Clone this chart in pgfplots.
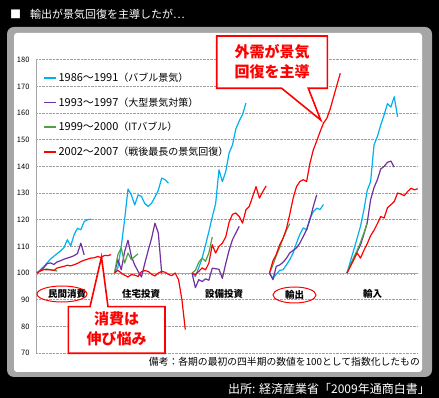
\documentclass[border=0pt]{standalone}
\usepackage{fontspec}
\setmainfont{Noto Sans CJK JP}
\usepackage{pgfplots}
\pgfplotsset{compat=1.18}
\definecolor{cBlue}{RGB}{0,176,240}
\definecolor{cPurple}{RGB}{112,48,160}
\definecolor{cGreen}{RGB}{80,160,70}
\definecolor{cRed}{RGB}{255,0,0}
\definecolor{panelgrey}{RGB}{166,166,166}
\begin{document}
\begin{tikzpicture}
\fill[black] (0pt,0pt) rectangle (439pt,398pt);
\fill[panelgrey, rounded corners=7pt] (7pt,21pt) rectangle (432pt,371pt);
\fill[white, rounded corners=3pt] (14pt,26pt) rectangle (422pt,365pt);
\node[white, anchor=west, inner sep=0pt, font=\fontsize{11}{11}\selectfont] at (10pt,384pt) {■\hspace{9pt}輸出が景気回復を主導したが…};
\begin{axis}[
  at={(36pt,45pt)}, anchor=south west, scale only axis,
  width=382pt, height=293.3pt,
  xmin=-0.3, xmax=113.06, ymin=70, ymax=180,
  axis x line=none, axis y line*=left,
  axis line style={gray!70, line width=0.8pt},
  ytick={70,80,...,180},
  ytick style={draw=none},
  ymajorgrids,
  major grid style={densely dotted, gray!75, line width=0.6pt},
  /pgf/number format/assume math mode=true,
  yticklabel style={font=\fontsize{7.5}{8}\selectfont, xshift=-3pt},
  legend style={at={(0.018,0.962)}, anchor=north west, draw=none, fill=none,
    font=\fontsize{11}{12}\selectfont, row sep=10.5pt, inner sep=0pt},
  legend cell align=left,
  legend image code/.code={\draw[#1,line width=1.5pt] (0pt,0pt) -- (12pt,0pt);},
  every axis plot/.append style={line width=1.2pt, line join=round, mark=none},
]
\draw[gray!70, line width=0.8pt] (axis cs:-0.3,100) -- (axis cs:113.06,100);
\pgfplotsinvokeforeach{0,...,113}{\draw[gray!70, line width=0.5pt] (axis cs:#1,100) -- ([yshift=-2pt]axis cs:#1,100);}
% ---- series used for legend ----
\addplot[color=cBlue] coordinates {(0,100)(1,101.2)(2,102.4)(3,103.8)(4,105.2)(5,106.3)(6,107.3)(7,108.3)(8,109.5)(9,112.5)(10,110.2)(11,114.3)(12,116.8)(13,116.2)(14,119.3)(15,120)(16,120.2)};
\addlegendentry{1986～1991{\fontsize{10}{10}\selectfont（バブル景気）}}
\addplot[color=cPurple] coordinates {(0,100)(1,101)(2,102)(3,103.5)(4,103.8)(5,103.2)(6,104.2)(7,104.6)(8,105.2)(9,105.6)(10,106)(11,106.5)(12,107.3)(13,111.2)(14,106.8)};
\addlegendentry{1993～1997{\fontsize{10}{10}\selectfont（大型景気対策）}}
\addplot[color=cGreen] coordinates {(0,100)(1,100.8)(2,101.3)(3,101.5)(4,101.2)(5,101)(6,100.7)};
\addlegendentry{1999～2000{\fontsize{10}{10}\selectfont（ITバブル）}}
\addplot[color=cRed] coordinates {(0,100)(1,100.8)(2,101.3)(3,101.2)(4,101.2)(5,101)(6,101.9)(7,102.2)(8,102.5)(9,102.9)(10,102.7)(11,103.1)(12,103.6)(13,104.3)(14,104.8)(15,105.2)(16,105.6)(17,105.7)(18,106.2)(19,105.8)(20,106.6)(21,106.5)(22,106.9)};
\addlegendentry{2002～2007{\fontsize{10}{10}\selectfont（戦後最長の景気回復）}}
% ---- blue ----
\addplot[color=cBlue, forget plot] coordinates {(23,100)(24,102)(25,110)(26,120)(27,131.5)(28,129.3)(29,125.5)(30,129.3)(31,128.7)(32,126)(33,125)(34,126.2)(35,128.5)(36,131)(37,135.6)(38,135)(39,133.7)};
\addplot[color=cBlue, forget plot] coordinates {(46,100)(47,98.7)(48,102)(49,105.5)(50,110.5)(51,115.5)(52,121)(53,126)(54,138.7)(55,134.3)(56,138)(57,145)(58,148)(59,154)(60,157)(61,159.5)(62,163.7)};
\addplot[color=cBlue, forget plot] coordinates {(69,100)(70,98)(71,99.5)(72,101)(73,101.2)(74,103)(75,105)(76,107.5)(77,111.2)(78,114.5)(79,116.9)(80,116.2)(81,120.5)(82,123)(83,124.3)(84,123.8)(85,125.7)};
\addplot[color=cBlue, forget plot] coordinates {(92,100)(93,104.4)(94,108.7)(95,113.1)(96,117.5)(97,123.7)(98,131)(99,134.3)(100,148)(101,151.2)(102,155.5)(103,159.3)(104,163.5)(105,162.2)(106,166.1)(107,158.6)};
% ---- purple ----
\addplot[color=cPurple, forget plot] coordinates {(23,100)(24,105)(25,101.2)(26,108)(27,112.3)(28,106.2)(29,103)(30,100.6)(31,98.5)(32,103.7)(33,108.5)(34,113)(35,118.7)(36,115)(37,100)};
\addplot[color=cPurple, forget plot] coordinates {(46,100)(47,94.5)(48,97.5)(49,96.8)(50,97.8)(51,97.3)(52,101.8)(53,101.6)(54,101.4)(55,98)(56,103.5)(57,108.5)(58,112.5)(59,115)(60,117.5)};
\addplot[color=cPurple, forget plot] coordinates {(69,100)(70,97.5)(71,102.5)(72,103)(73,104)(74,105.5)(75,107.5)(76,108.5)(77,109.4)(78,111.2)(79,113.7)(80,116.2)(81,120)(82,125)(83,129.3)};
\addplot[color=cPurple, forget plot] coordinates {(92,100)(93,102.8)(94,105.6)(95,108)(96,110.5)(97,114.5)(98,119)(99,127.5)(100,132)(101,135)(102,139)(103,140)(104,141.5)(105,142)(106,139.7)};
% ---- green ----
\addplot[color=cGreen, forget plot] coordinates {(23,100)(24,106.9)(25,109.4)(26,103.7)(27,107.5)(28,105)(29,106.2)(30,107.2)};
\addplot[color=cGreen, forget plot] coordinates {(46,100)(47,101)(48,104)(49,105.6)(50,104.4)(51,107.5)(52,113.5)};
\addplot[color=cGreen, forget plot] coordinates {(69,100)(70,103)(71,106.5)(72,109.5)(73,113)(74,116)(75,118.5)};
\addplot[color=cGreen, forget plot] coordinates {(92,100)(93,103)(94,105.8)(95,108.5)(96,111.5)(97,115)(98,118.8)};
% ---- red ----
\addplot[color=cRed, forget plot] coordinates {(23,100)(24,101)(25,100)(26,99.2)(27,98.5)(28,99.4)(29,99.2)(30,98.7)(31,100.5)(32,100.9)(33,100.6)(34,99.5)(35,98.9)(36,100)(37,100.6)(38,100.3)(39,99.5)(40,99)(41,100)(42,97.5)(43,90)(44,78.8)};
\addplot[color=cRed, forget plot] coordinates {(46,100)(47,99.4)(48,100.6)(49,101.9)(50,101.2)(51,103.7)(52,110.6)(53,107.5)(54,110)(55,111.2)(56,113.5)(57,119)(58,122)(59,122.5)(60,121.2)(61,118.7)(62,123.7)(63,125)(64,128.7)(65,132.4)(66,128.1)(67,130.5)(68,132.7)};
\addplot[color=cRed, forget plot] coordinates {(69,100)(70,104.5)(71,107)(72,110.5)(73,113)(74,116.5)(75,122)(76,128)(77,132.4)(78,134.3)(79,135)(80,134.3)(81,141.2)(82,146.2)(83,149.5)(84,153)(85,156.2)(86,158)(87,161.5)(88,166)(89,170.5)(90,174.9)};
\addplot[color=cRed, forget plot] coordinates {(92,100)(93,102.5)(94,105)(95,107.5)(96,105.6)(97,108.5)(98,111)(99,114)(100,116)(101,118.5)(102,121.2)(103,120.6)(104,124.5)(105,125.6)(106,126.8)(107,130)(108,129.6)(109,129)(110,130.6)(111,131.8)(112,131.2)(113,131.6)};
\end{axis}
% group labels
\begin{scope}[font=\bfseries\fontsize{9.5}{10}\selectfont]
\node at (67pt,104pt) {民間消費};
\node at (141pt,104pt) {住宅投資};
\node at (224pt,104pt) {設備投資};
\node at (294.5pt,103pt) {輸出};
\node at (372.5pt,104pt) {輸入};
\end{scope}
\draw[cRed, line width=1pt] (62pt,104pt) ellipse (25pt and 8pt);
\draw[cRed, line width=1pt] (294.5pt,103pt) ellipse (21.5pt and 8pt);
% callouts
\filldraw[fill=white, draw=cRed, line width=1.6pt, line join=miter] (216.7pt,362pt) -- (327.3pt,362pt) -- (327.3pt,309.7pt) -- (308.3pt,309.7pt) -- (320.7pt,278pt) -- (281.7pt,309.7pt) -- (216.7pt,309.7pt) -- cycle;
\node[cRed, align=center, inner sep=0pt, font=\bfseries\fontsize{15}{20}\selectfont] at (272pt,336pt) {外需が景気\\回復を主導};
\filldraw[fill=white, draw=cRed, line width=1.6pt, line join=miter] (68.3pt,91.3pt) -- (90pt,91.3pt) -- (101.5pt,141pt) -- (108pt,91.3pt) -- (165pt,91.3pt) -- (165pt,44.7pt) -- (68.3pt,44.7pt) -- cycle;
\node[cRed, align=center, inner sep=0pt, font=\bfseries\fontsize{15}{20}\selectfont] at (116.7pt,69pt) {消費は\\伸び悩み};
% notes
\node[anchor=east, inner sep=0pt, font=\fontsize{9.8}{10}\selectfont] at (420pt,36pt) {備考：各期の最初の四半期の数値を100として指数化したもの};
\node[anchor=east, white, inner sep=0pt, font=\fontsize{12}{12}\selectfont] at (430pt,9pt) {出所: 経済産業省「2009年通商白書」};
\end{tikzpicture}
\end{document}
